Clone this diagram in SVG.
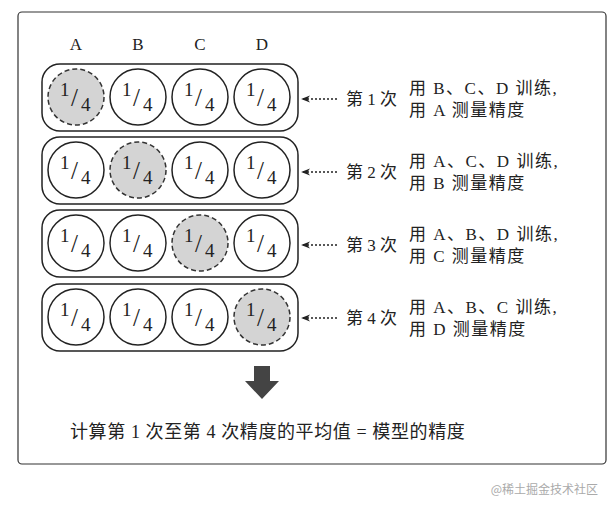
<svg xmlns="http://www.w3.org/2000/svg" width="611" height="511" viewBox="0 0 611 511">
<defs>
<style>
.t{font-family:"Liberation Serif","Noto Sans CJK SC",serif;fill:#222}
.row{fill:#fff;stroke:#222;stroke-width:1.5}
.c{fill:#fff;stroke:#222;stroke-width:1.5}
.h{fill:#d4d4d4;stroke:#333;stroke-width:1.5;stroke-dasharray:5,3}
.ar{stroke:#222;stroke-width:1.3;stroke-dasharray:2,2;fill:none}
.sp{letter-spacing:1.5px}
</style>
<marker id="m" viewBox="0 0 10 10" refX="9" refY="5" markerWidth="7" markerHeight="7" orient="auto-start-reverse"><path d="M0,1 L10,5 L0,9 L3,5z" fill="#222"/></marker>
<g id="frac"><text class="t" font-size="19"><tspan x="-16" y="-1">1</tspan><tspan x="-5" y="9" font-size="25">/</tspan><tspan x="5" y="14">4</tspan></text></g>
</defs>
<rect x="0" y="0" width="611" height="511" fill="#fff"/>
<rect x="18" y="12" width="588" height="452" rx="4" fill="#fff" stroke="#333" stroke-width="1.2"/>
<g id="labels" class="t" font-size="17" text-anchor="middle">
<text x="76" y="50">A</text><text x="138" y="50">B</text><text x="200" y="50">C</text><text x="262" y="50">D</text>
</g>
<g id="row1"><rect class="row" x="42" y="64" width="256" height="67" rx="18"/>
<circle class="h" cx="76" cy="97" r="28"/><circle class="c" cx="138" cy="97" r="28"/><circle class="c" cx="200" cy="97" r="28"/><circle class="c" cx="262" cy="97" r="28"/>
<use href="#frac" x="76" y="97"/><use href="#frac" x="138" y="97"/><use href="#frac" x="200" y="97"/><use href="#frac" x="262" y="97"/></g>
<g id="row2"><rect class="row" x="42" y="137" width="256" height="67" rx="18"/>
<circle class="c" cx="76" cy="170" r="28"/><circle class="h" cx="138" cy="170" r="28"/><circle class="c" cx="200" cy="170" r="28"/><circle class="c" cx="262" cy="170" r="28"/>
<use href="#frac" x="76" y="170"/><use href="#frac" x="138" y="170"/><use href="#frac" x="200" y="170"/><use href="#frac" x="262" y="170"/></g>
<g id="row3"><rect class="row" x="42" y="210" width="256" height="67" rx="18"/>
<circle class="c" cx="76" cy="243" r="28"/><circle class="c" cx="138" cy="243" r="28"/><circle class="h" cx="200" cy="243" r="28"/><circle class="c" cx="262" cy="243" r="28"/>
<use href="#frac" x="76" y="243"/><use href="#frac" x="138" y="243"/><use href="#frac" x="200" y="243"/><use href="#frac" x="262" y="243"/></g>
<g id="row4"><rect class="row" x="42" y="284" width="256" height="67" rx="18"/>
<circle class="c" cx="76" cy="317" r="28"/><circle class="c" cx="138" cy="317" r="28"/><circle class="c" cx="200" cy="317" r="28"/><circle class="h" cx="262" cy="317" r="28"/>
<use href="#frac" x="76" y="317"/><use href="#frac" x="138" y="317"/><use href="#frac" x="200" y="317"/><use href="#frac" x="262" y="317"/></g>
<g id="connectors">
<line class="ar" x1="337" y1="99" x2="302" y2="99" marker-end="url(#m)"/>
<line class="ar" x1="337" y1="172" x2="302" y2="172" marker-end="url(#m)"/>
<line class="ar" x1="337" y1="245" x2="302" y2="245" marker-end="url(#m)"/>
<line class="ar" x1="337" y1="318" x2="302" y2="318" marker-end="url(#m)"/>
<path d="M254,366 H270 V381 H279 L262,399 L245,381 H254 Z" fill="#444"/>
</g>
<g id="texts" class="t" font-size="17">
<text x="346" y="105">第 1 次</text><text class="sp" x="409" y="94">用 B、C、D 训练,</text><text class="sp" x="409" y="116">用 A 测量精度</text>
<text x="346" y="178">第 2 次</text><text class="sp" x="409" y="167">用 A、C、D 训练,</text><text class="sp" x="409" y="189">用 B 测量精度</text>
<text x="346" y="251">第 3 次</text><text class="sp" x="409" y="240">用 A、B、D 训练,</text><text class="sp" x="409" y="262">用 C 测量精度</text>
<text x="346" y="324">第 4 次</text><text class="sp" x="409" y="313">用 A、B、C 训练,</text><text class="sp" x="409" y="335">用 D 测量精度</text>
<text x="70" y="438" font-size="18" letter-spacing="0.6">计算第 1 次至第 4 次精度的平均值 = 模型的精度</text>
</g>
<text x="598" y="494" text-anchor="end" font-family="'Noto Sans CJK SC',sans-serif" font-size="12" fill="#aaa">@稀土掘金技术社区</text>
</svg>
